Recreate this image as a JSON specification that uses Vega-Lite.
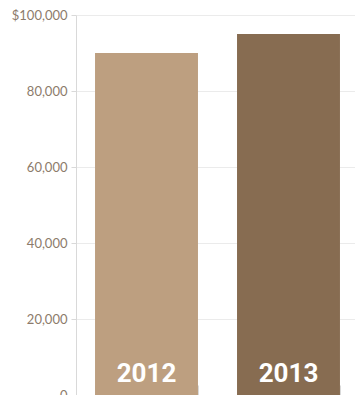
{
  "$schema": "https://vega.github.io/schema/vega-lite/v6.json",
  "autosize": {"type": "none"},
  "padding": {"left": 76, "top": 15, "right": 0, "bottom": 0},
  "width": 283,
  "height": 380,
  "data": {"values": [
    {"year": "2012", "amount": 90000},
    {"year": "2013", "amount": 95000}
  ]},
  "config": {"view": {"stroke": null}},
  "encoding": {
    "x": {"field": "year", "type": "nominal",
      "scale": {"paddingInner": 0.275, "paddingOuter": 0.134},
      "axis": {"title": null, "labels": false, "domainColor": "#d9d9d9", "tickColor": "#d9d9d9", "tickBand": "extent", "tickSize": -10, "grid": false}}
  },
  "layer": [
    {
      "mark": {"type": "bar"},
      "encoding": {
        "y": {"field": "amount", "type": "quantitative",
          "scale": {"domain": [0, 100000]},
          "axis": {"title": null, "values": [0, 20000, 40000, 60000, 80000, 100000],
            "labelExpr": "datum.value == 100000 ? '$100,000' : format(datum.value, ',')",
            "labelFont": "Lato", "labelFontSize": 13, "labelColor": "#8c7b6b",
            "domainColor": "#d9d9d9", "tickColor": "#d9d9d9", "tickSize": 5, "labelPadding": 4,
            "gridColor": "#ebebeb"}},
        "color": {"field": "year", "type": "nominal",
          "scale": {"domain": ["2012", "2013"], "range": ["#bd9f80", "#876c51"]}, "legend": null}
      }
    },
    {
      "mark": {"type": "text", "color": "white", "font": "Roboto", "fontWeight": "bold", "fontSize": 26, "baseline": "alphabetic", "dy": -13},
      "encoding": {
        "y": {"datum": 0, "type": "quantitative"},
        "text": {"field": "year"}
      }
    }
  ]
}
